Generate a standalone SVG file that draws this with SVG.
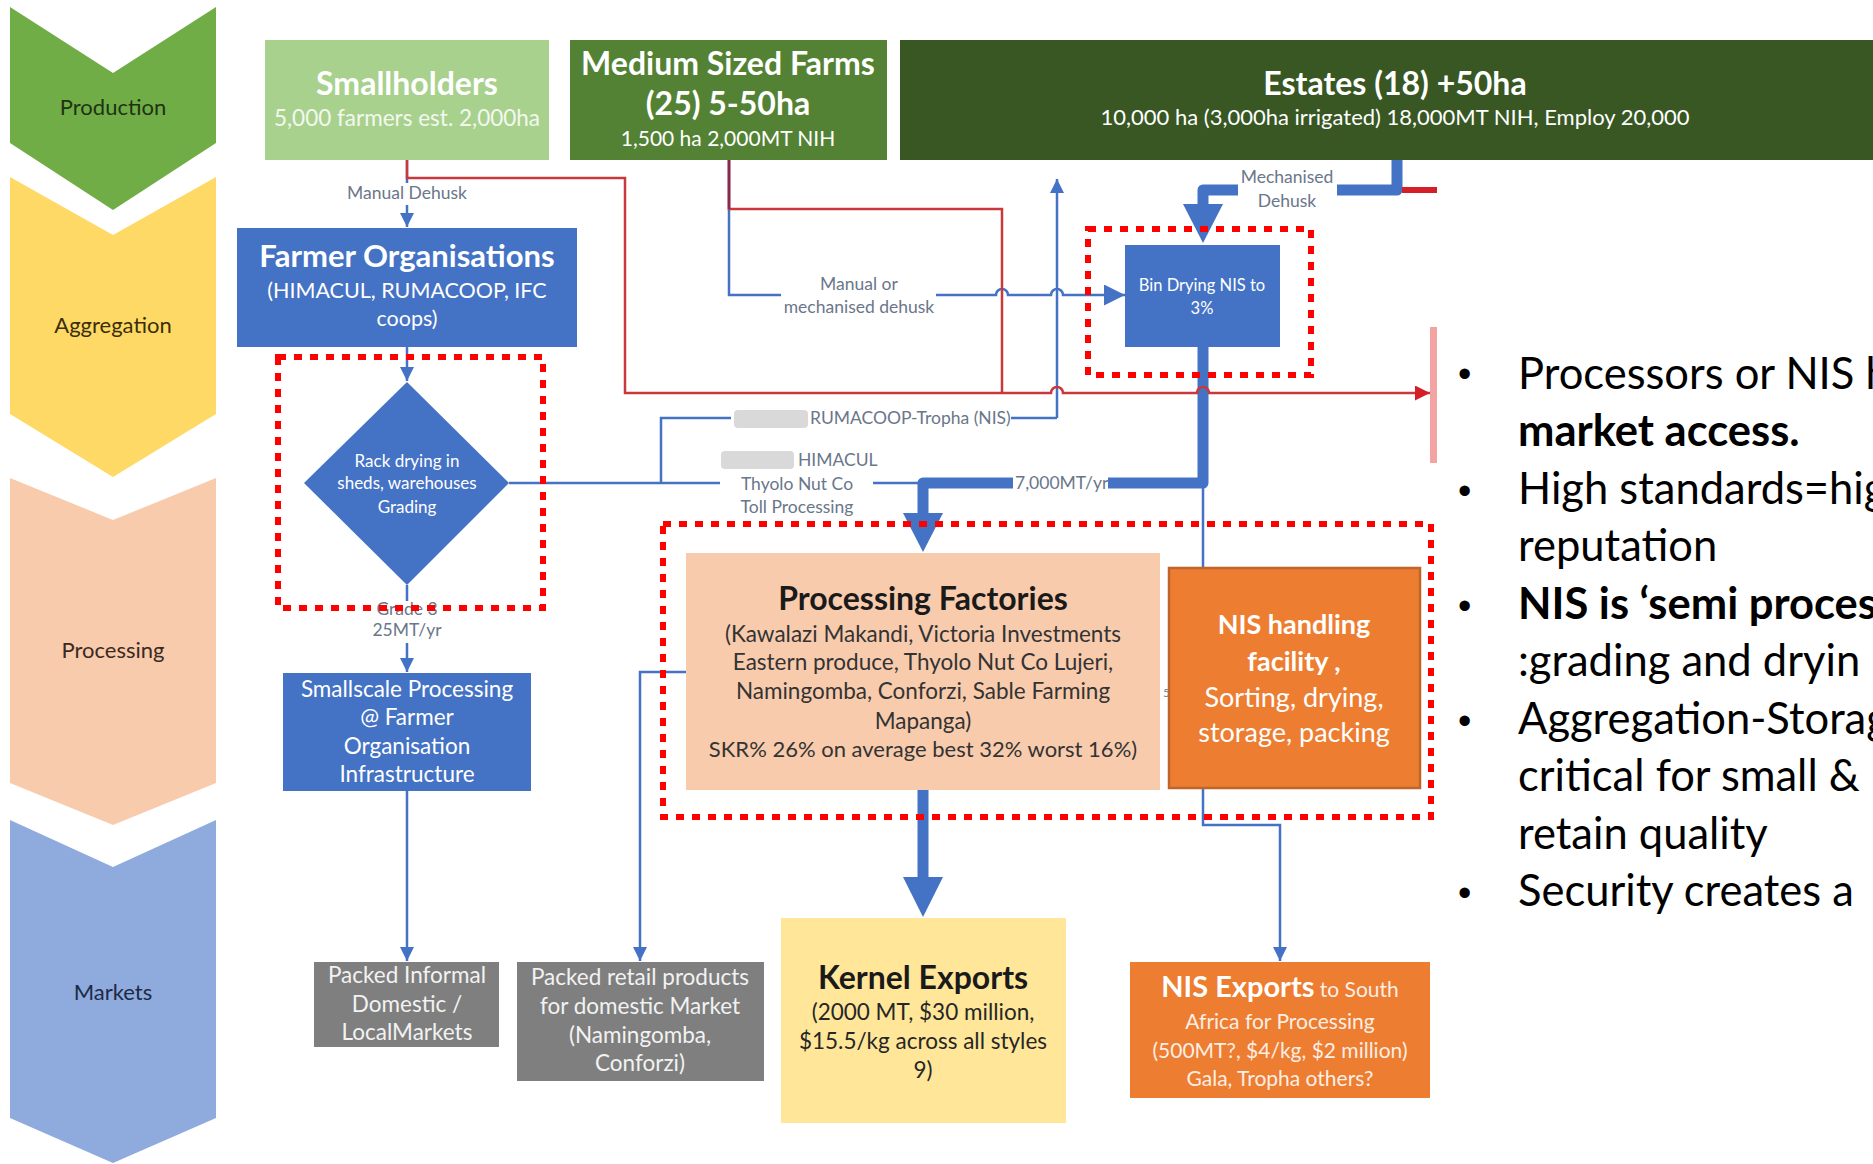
<svg xmlns="http://www.w3.org/2000/svg" width="1873" height="1164" viewBox="0 0 1873 1164">
<defs>
<style>
text{font-family:Lato,'Liberation Sans',sans-serif}
.c{text-anchor:middle}
.b{font-weight:bold}
.stage{font-size:22px;text-anchor:middle}
.wt{fill:#ffffff}
.sub{font-size:22.5px}
.ttl{font-size:32px;font-weight:bold}
.lbl{font-size:17.5px;fill:#6a768a}
.ln{fill:none;stroke:#4472c4;stroke-width:2.5}
.thick{fill:none;stroke:#4472c4;stroke-width:11;stroke-linejoin:round}
.red{fill:none;stroke:#c8383c;stroke-width:2.5}
.hl{fill:none;stroke:#ff0000;stroke-width:6;stroke-dasharray:8 8}
.note{font-size:43.5px;fill:#000}
.dot{font-family:'Liberation Sans',sans-serif;font-size:38px}
.ph{fill:#d9d9d9}
</style>
<marker id="ah" viewBox="0 0 10 10" refX="10" refY="5" markerWidth="14" markerHeight="14" markerUnits="userSpaceOnUse" orient="auto"><path d="M0,0L10,5L0,10z" fill="#4472c4"/></marker>
<marker id="ahBig" viewBox="0 0 10 10" refX="10" refY="5" markerWidth="23" markerHeight="21" markerUnits="userSpaceOnUse" orient="auto"><path d="M0,0L10,5L0,10z" fill="#4472c4"/></marker>
<marker id="ahRed" viewBox="0 0 10 10" refX="10" refY="5" markerWidth="18" markerHeight="15" markerUnits="userSpaceOnUse" orient="auto"><path d="M0,0L10,5L0,10z" fill="#d41f26"/></marker>
</defs>
<rect width="1873" height="1164" fill="#ffffff"/>

<!-- value chain stages -->
<g id="stage-production">
<polygon points="10,7 113,73 216,7 216,143 113,210 10,143" fill="#70ad47"/>
<text class="stage" x="113" y="115" fill="#1f3312">Production</text>
</g>
<g id="stage-aggregation">
<polygon points="10,177 113,235 216,177 216,414 113,477 10,414" fill="#ffd966"/>
<text class="stage" x="113" y="333" fill="#3a2f08">Aggregation</text>
</g>
<g id="stage-processing">
<polygon points="10,478 113,520 216,478 216,783 113,825 10,783" fill="#f8cbad"/>
<text class="stage" x="113" y="658" fill="#3a2a22">Processing</text>
</g>
<g id="stage-markets">
<polygon points="10,820 113,867 216,820 216,1118 113,1163 10,1118" fill="#8faadc"/>
<text class="stage" x="113" y="1000" fill="#1c2a48">Markets</text>
</g>

<!-- connectors -->
<g id="connectors">
  <!-- Smallholders to Farmer Organisations -->
  <path class="ln" d="M407,160V183"/>
  <path class="ln" d="M407,205V227" marker-end="url(#ah)"/>
  <text class="lbl c" x="407" y="199">Manual Dehusk</text>
  <!-- Farmer Organisations to rack drying -->
  <path class="ln" d="M407,347V381" marker-end="url(#ah)"/>
  <!-- rack drying to smallscale processing -->
  <path class="ln" d="M407,585V601"/>
  <text class="lbl c" x="407" y="615" font-size="16">Grade 3</text>
  <text class="lbl c" x="407" y="636" font-size="16">25MT/yr</text>
  <path class="ln" d="M407,643V672" marker-end="url(#ah)"/>
  <!-- smallscale to informal markets -->
  <path class="ln" d="M407,791V961" marker-end="url(#ah)"/>
  <!-- rack drying to toll processing and RUMACOOP -->
  <path class="ln" d="M509,483H720"/>
  <path class="ln" d="M873,483H918"/>
  <path class="ln" d="M661,483V418H731"/>
  <path class="ln" d="M1011,418H1057"/>
  <rect class="ph" x="734" y="410" width="74" height="18" rx="4"/>
  <text class="lbl" x="810" y="424">RUMACOOP-Tropha (NIS)</text>
  <rect class="ph" x="721" y="451" width="73" height="18" rx="4"/>
  <text class="lbl" x="798" y="466">HIMACUL</text>
  <text class="lbl c" x="797" y="490">Thyolo Nut Co</text>
  <text class="lbl c" x="797" y="513">Toll Processing</text>
  <!-- RUMACOOP flow upward -->
  <path class="ln" d="M1057,418V179" marker-end="url(#ah)"/>
  <!-- medium farms to bin drying -->
  <path class="ln" d="M729,160V295H781"/>
  <path class="ln" d="M936,295H996A6,6 0 0 1 1008,295H1051A6,6 0 0 1 1063,295H1125" marker-end="url(#ahBig)"/>
  <text class="lbl c" x="859" y="290">Manual or</text>
  <text class="lbl c" x="859" y="313">mechanised dehusk</text>
  <!-- estates to bin drying -->
  <path class="thick" d="M1397,157V190H1337"/>
  <path class="thick" d="M1238,190H1203V206"/>
  <polygon points="1183,204 1223,204 1203,243" fill="#4472c4"/>
  <text class="lbl c" x="1287" y="183">Mechanised</text>
  <text class="lbl c" x="1287" y="207">Dehusk</text>
  <path d="M1402,190H1437" stroke="#d41f26" stroke-width="6" fill="none"/>
  <!-- bin drying to processing factories -->
  <path class="thick" d="M1203,347V483H1108"/>
  <path class="thick" d="M1013,483H923V516"/>
  <polygon points="903,513 943,513 923,552" fill="#4472c4"/>
  <text class="lbl" x="1015" y="489" font-size="16">7,000MT/yr</text>
  <!-- bin drying to NIS handling and on to NIS exports -->
  <path class="ln" d="M1203,483V567"/>
  <path class="ln" d="M1203,788V825H1280V961" marker-end="url(#ah)"/>
  <!-- processing factories to retail and kernel exports -->
  <path class="ln" d="M686,672H640V961" marker-end="url(#ah)"/>
  <path class="thick" d="M923,790V880" stroke-width="13"/>
  <polygon points="903,877 943,877 923,917" fill="#4472c4"/>
  <text x="1163" y="697" font-size="12" fill="#7a8597">5</text>
  <!-- red routes to market access -->
  <path class="red" d="M729,160V209H1002V393"/>
  <path d="M729,160V209" stroke="#8a2a4a" stroke-width="2.5" fill="none"/>
  <path class="red" d="M407,160V178H625V393H1051A6,6 0 0 1 1063,393H1197A6,6 0 0 1 1209,393H1430" marker-end="url(#ahRed)"/>
  <rect x="1430" y="327" width="7" height="136" fill="#f4a3a3"/>
</g>

<!-- nodes -->
<g id="node-smallholders">
<rect x="265" y="40" width="284" height="120" fill="#a9d18e"/>
<text class="ttl c wt" x="407" y="95">Smallholders</text>
<text class="sub c" x="407" y="126" fill="#f3f8ef">5,000 farmers est. 2,000ha</text>
</g>
<g id="node-medium-farms">
<rect x="570" y="40" width="317" height="120" fill="#548235"/>
<text class="ttl c wt" x="728" y="75">Medium Sized Farms</text>
<text class="ttl c wt" x="728" y="115">(25) 5-50ha</text>
<text class="c wt" x="728" y="146" font-size="21">1,500 ha 2,000MT NIH</text>
</g>
<g id="node-estates">
<rect x="900" y="40" width="973" height="120" fill="#385723"/>
<text class="ttl c wt" x="1395" y="95">Estates (18) +50ha</text>
<text class="c wt" x="1395" y="125" font-size="22">10,000 ha (3,000ha irrigated) 18,000MT NIH, Employ 20,000</text>
</g>
<g id="node-farmer-organisations">
<rect x="237" y="228" width="340" height="119" fill="#4472c4"/>
<text class="c wt b" x="407" y="267" font-size="31">Farmer Organisations</text>
<text class="c wt" x="407" y="298" font-size="21.5">(HIMACUL, RUMACOOP, IFC</text>
<text class="c wt" x="407" y="326" font-size="21.5">coops)</text>
</g>
<g id="node-rack-drying">
<polygon points="407,382 509,483 407,585 304,483" fill="#4472c4"/>
<text class="c wt" x="407" y="467" font-size="17">Rack drying in</text>
<text class="c wt" x="407" y="489" font-size="17">sheds, warehouses</text>
<text class="c wt" x="407" y="513" font-size="17">Grading</text>
</g>
<g id="node-bin-drying">
<rect x="1125" y="245" width="155" height="102" fill="#4472c4"/>
<text class="c wt" x="1202" y="291" font-size="16.5">Bin Drying NIS to</text>
<text class="c wt" x="1202" y="314" font-size="16.5">3%</text>
</g>
<g id="node-smallscale-processing">
<rect x="283" y="673" width="248" height="118" fill="#4472c4"/>
<text class="sub c wt" x="407" y="697">Smallscale Processing</text>
<text class="sub c wt" x="407" y="725">@ Farmer</text>
<text class="sub c wt" x="407" y="754">Organisation</text>
<text class="sub c wt" x="407" y="782">Infrastructure</text>
</g>
<g id="node-processing-factories">
<rect x="686" y="553" width="474" height="237" fill="#f8cbad"/>
<text class="ttl c" x="923" y="610" fill="#1a1a1a">Processing Factories</text>
<text class="sub c" x="923" y="642" fill="#333333">(Kawalazi Makandi, Victoria Investments</text>
<text class="sub c" x="923" y="670" fill="#333333">Eastern produce, Thyolo Nut Co Lujeri,</text>
<text class="sub c" x="923" y="699" fill="#333333">Namingomba, Conforzi, Sable Farming</text>
<text class="sub c" x="923" y="729" fill="#333333">Mapanga)</text>
<text class="c" x="923" y="757" font-size="22" fill="#333333">SKR% 26% on average best 32% worst 16%)</text>
</g>
<g id="node-nis-handling">
<rect x="1169" y="568" width="251" height="220" fill="#ed7d31" stroke="#c0652a" stroke-width="2.5"/>
<text class="c wt b" x="1294" y="634" font-size="27">NIS handling</text>
<text class="c wt b" x="1294" y="671" font-size="27">facility ,</text>
<text class="c wt" x="1294" y="707" font-size="27">Sorting, drying,</text>
<text class="c wt" x="1294" y="742" font-size="27">storage, packing</text>
</g>
<g id="node-packed-informal">
<rect x="314" y="962" width="185" height="85" fill="#7f7f7f"/>
<text class="sub c" x="407" y="983" fill="#f2f2f2">Packed Informal</text>
<text class="sub c" x="407" y="1012" fill="#f2f2f2">Domestic /</text>
<text class="sub c" x="407" y="1040" fill="#f2f2f2">LocalMarkets</text>
</g>
<g id="node-packed-retail">
<rect x="517" y="962" width="247" height="119" fill="#7f7f7f"/>
<text class="sub c" x="640" y="985" fill="#f2f2f2">Packed retail products</text>
<text class="sub c" x="640" y="1014" fill="#f2f2f2">for domestic Market</text>
<text class="sub c" x="640" y="1043" fill="#f2f2f2">(Namingomba,</text>
<text class="sub c" x="640" y="1071" fill="#f2f2f2">Conforzi)</text>
</g>
<g id="node-kernel-exports">
<rect x="781" y="918" width="285" height="205" fill="#ffe699"/>
<text class="ttl c" x="923" y="989" fill="#1a1a1a">Kernel Exports</text>
<text class="sub c" x="923" y="1020" fill="#262626">(2000 MT, $30 million,</text>
<text class="sub c" x="923" y="1049" fill="#262626">$15.5/kg across all styles</text>
<text class="sub c" x="923" y="1078" fill="#262626">9)</text>
</g>
<g id="node-nis-exports">
<rect x="1130" y="962" width="300" height="136" fill="#ed7d31"/>
<text class="c" x="1280" y="997" fill="#fdeee4"><tspan class="b" font-size="29" fill="#ffffff">NIS Exports</tspan><tspan font-size="21"> to South</tspan></text>
<text class="c" x="1280" y="1029" font-size="21" fill="#fdeee4">Africa for Processing</text>
<text class="c" x="1280" y="1058" font-size="21" fill="#fdeee4">(500MT?, $4/kg, $2 million)</text>
<text class="c" x="1280" y="1086" font-size="21" fill="#fdeee4">Gala, Tropha others?</text>
</g>

<!-- highlighted areas -->
<g id="highlights">
<rect class="hl" x="278" y="357" width="265" height="251"/>
<rect class="hl" x="1088" y="229" width="223" height="146"/>
<rect class="hl" x="663" y="524" width="768" height="293"/>
</g>

<!-- key points -->
<g id="notes" class="note">
<text class="dot" x="1458" y="387">•</text>
<text class="dot" x="1458" y="504">•</text>
<text class="dot" x="1458" y="619">•</text>
<text class="dot" x="1458" y="734">•</text>
<text class="dot" x="1458" y="906">•</text>
<text x="1518" y="389">Processors or NIS h</text>
<text x="1518" y="446" class="b">market access.</text>
<text x="1518" y="504">High standards=hig</text>
<text x="1518" y="561">reputation</text>
<text x="1518" y="619" class="b">NIS is ‘semi proces</text>
<text x="1518" y="676">:grading and dryin</text>
<text x="1518" y="734">Aggregation-Storag</text>
<text x="1518" y="791">critical for small &amp;</text>
<text x="1518" y="849">retain quality</text>
<text x="1518" y="906">Security creates a</text>
</g>
</svg>
